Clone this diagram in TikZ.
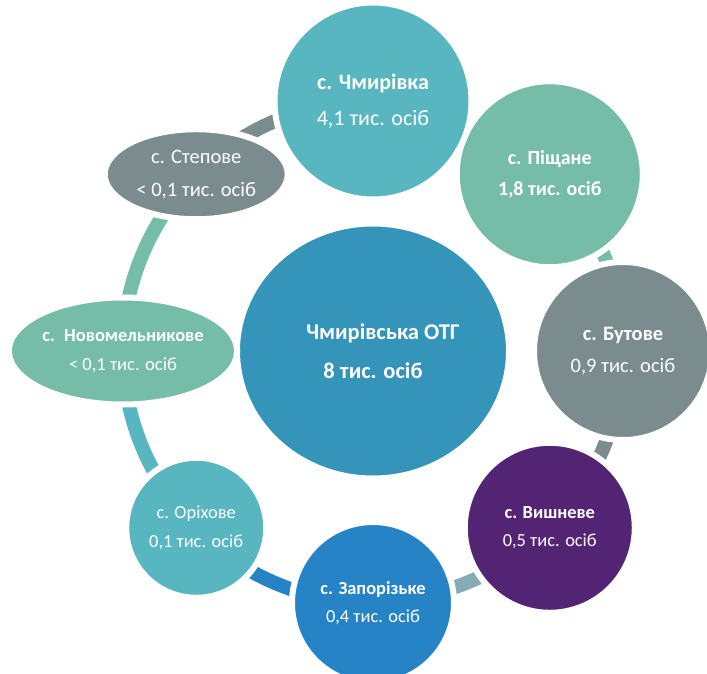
\documentclass[tikz,border=0pt]{standalone}
\usepackage{fontspec}
\setmainfont{Carlito}
\usetikzlibrary{shapes.geometric,backgrounds}
\definecolor{teal1}{HTML}{58B6C0}
\definecolor{green1}{HTML}{75BDA7}
\definecolor{gray1}{HTML}{7A8C8E}
\definecolor{purple1}{HTML}{542474}
\definecolor{blue1}{HTML}{2683C6}
\definecolor{blue2}{HTML}{3494BA}
\definecolor{steel1}{HTML}{84ACB6}
\tikzset{
  village/.style={circle,draw=white,line width=6pt,inner sep=0pt,text=white,align=center},
  oval/.style={ellipse,draw=white,line width=6pt,inner sep=0pt,text=white,align=center},
  link/.style={line width=14pt}
}
\newcommand{\fs}[2]{\fontsize{#1}{#2}\selectfont}

\begin{document}
\begin{tikzpicture}[x=1pt,y=1pt]
\useasboundingbox (-373,-322) rectangle (334,351);
\node[oval,fill=blue2,minimum width=272,minimum height=255,font=\fs{22.5}{39}\bfseries]
  (otg) at (0,0) {\hspace*{20pt}Чмирівська ОТГ\\8 тис. осіб};
\node[village,fill=green1,minimum size=186,font=\fs{20}{31}\bfseries]
  (pishchane) at (45:250) {с. Піщане\\1,8 тис. осіб};
\node[village,fill=teal1,minimum size=197,font=\fs{22}{36}]
  (chmyrivka) at (90:250) {\textbf{с. Чмирівка}\\4,1 тис. осіб};
\node[village,fill=gray1,minimum size=178,font=\fs{20.5}{32}]
  (butove) at (0:250) {\textbf{с. Бутове}\\0,9 тис. осіб};
\node[village,fill=purple1,minimum size=170,font=\fs{18.4}{28}]
  (vyshneve) at (-45:250) {\textbf{с. Вишневе}\\0,5 тис. осіб};
\node[village,fill=blue1,minimum size=162,font=\fs{18.4}{28}]
  (zaporizke) at (-90:252) {\textbf{с. Запорізьке}\\0,4 тис. осіб};
\node[village,fill=teal1,minimum size=140,font=\fs{18.4}{29}]
  (orikhove) at (-135:250) {с. Оріхове\\0,1 тис. осіб};
\node[oval,fill=green1,minimum width=228,minimum height=107,font=\fs{18.5}{29}]
  (novomel) at (180:250) {\textbf{с.\enspace Новомельникове}\\< 0,1 тис. осіб};
\node[oval,fill=gray1,minimum width=183,minimum height=90,font=\fs{20.5}{33}]
  (stepove) at (135:250) {с. Степове\\< 0,1 тис. осіб};
\begin{scope}[on background layer]
\draw[link,gray1] (stepove.center) arc[start angle=135,end angle=90,radius=250];
\draw[link,green1] (pishchane.center) arc[start angle=45,end angle=0,radius=250];
\draw[link,gray1] (butove.center) arc[start angle=0,end angle=-45,radius=250];
\draw[link,steel1] (vyshneve.center) arc[start angle=-45,end angle=-90,radius=250];
\draw[link,blue1] (zaporizke.center) arc[start angle=-90,end angle=-135,radius=250];
\draw[link,teal1] (orikhove.center) arc[start angle=225,end angle=180,radius=250];
\draw[link,green1] (novomel.center) arc[start angle=180,end angle=135,radius=250];
\end{scope}
\end{tikzpicture}
\end{document}
